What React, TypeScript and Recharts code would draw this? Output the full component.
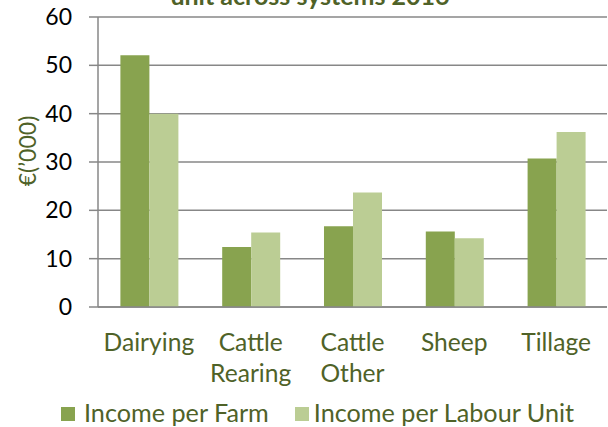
import React from 'react';
import { BarChart, Bar, XAxis, YAxis, CartesianGrid, Legend, Customized } from 'recharts';

const categories = ['Dairying', 'Cattle Rearing', 'Cattle Other', 'Sheep', 'Tillage'];
const incomePerFarm = [52.1, 12.4, 16.7, 15.6, 30.7];
const incomePerLabourUnit = [40.0, 15.4, 23.7, 14.2, 36.2];
const yTicks = [0, 10, 20, 30, 40, 50, 60];

const data = categories.map((c, i) => ({
  name: c,
  farm: incomePerFarm[i],
  labour: incomePerLabourUnit[i],
}));

const DARK = '#88A34F';
const LIGHT = '#BBCD94';
const TEXT_GREEN = '#4F6228';
const GRID = '#878787';
const FONT = 'Lato, "Open Sans", sans-serif';

const CategoryTick = (props: any) => {
  const { x, y, payload } = props;
  const words = String(payload.value).split(' ');
  return (
    <text x={x} y={y} textAnchor="middle" fill={TEXT_GREEN} fontSize={24.6} fontFamily={FONT}>
      {words.map((w: string, i: number) => (
        <tspan key={i} x={x} dy={i === 0 ? 35.5 : 31.7}>
          {w}
        </tspan>
      ))}
    </text>
  );
};

const YLabel = () => (
  <text
    x={27}
    y={151}
    transform="rotate(-90 27 151)"
    textAnchor="middle"
    dominantBaseline="central"
    fill={TEXT_GREEN}
    fontSize={23}
    fontFamily={FONT}
  >
    €(’000)
  </text>
);

const Title = () => (
  <text x={310} y={5} textAnchor="middle" fill={TEXT_GREEN} fontSize={25} fontWeight="bold" fontFamily={FONT}>
    unit across systems 2016
  </text>
);

const LegendContent = () => (
  <div
    style={{
      display: 'flex',
      alignItems: 'center',
      height: 30,
      boxSizing: 'border-box',
      paddingLeft: 61,
      fontFamily: FONT,
      fontSize: 25.2,
      lineHeight: '30px',
      color: TEXT_GREEN,
      whiteSpace: 'nowrap',
    }}
  >
    <span style={{ display: 'inline-block', width: 14, height: 14, background: DARK, marginRight: 9, marginTop: 3 }} />
    <span style={{ marginRight: 26 }}>Income per Farm</span>
    <span style={{ display: 'inline-block', width: 14, height: 14, background: LIGHT, marginRight: 5, marginTop: 3 }} />
    <span>Income per Labour Unit</span>
  </div>
);

export default function App() {
  return (
    <div style={{ position: 'absolute', left: 0, top: 0, width: 608, height: 427, background: '#fff' }}>
      <BarChart
        width={608}
        height={427}
        data={data}
        margin={{ top: 17, right: 1, left: 0, bottom: 0 }}
        barCategoryGap="22%"
        barGap={0}
      >
        <CartesianGrid vertical={false} stroke={GRID} strokeWidth={1.5} />
        <XAxis
          dataKey="name"
          height={90}
          tickLine={false}
          axisLine={{ stroke: GRID, strokeWidth: 1.5 }}
          tick={<CategoryTick />}
          interval={0}
        />
        <YAxis
          width={98}
          domain={[0, 60]}
          ticks={yTicks}
          interval={0}
          tickSize={9}
          tickMargin={17}
          axisLine={{ stroke: GRID, strokeWidth: 1.5 }}
          tickLine={{ stroke: GRID, strokeWidth: 1.5 }}
          tick={{ fill: '#000', fontSize: 23, fontFamily: FONT }}
          label={<YLabel />}
        />
        <Legend verticalAlign="bottom" content={<LegendContent />} wrapperStyle={{ left: 0, width: 608, height: 30 }} />
        <Bar dataKey="farm" name="Income per Farm" fill={DARK} isAnimationActive={false} />
        <Bar dataKey="labour" name="Income per Labour Unit" fill={LIGHT} isAnimationActive={false} />
        <Customized component={<Title />} />
      </BarChart>
    </div>
  );
}
